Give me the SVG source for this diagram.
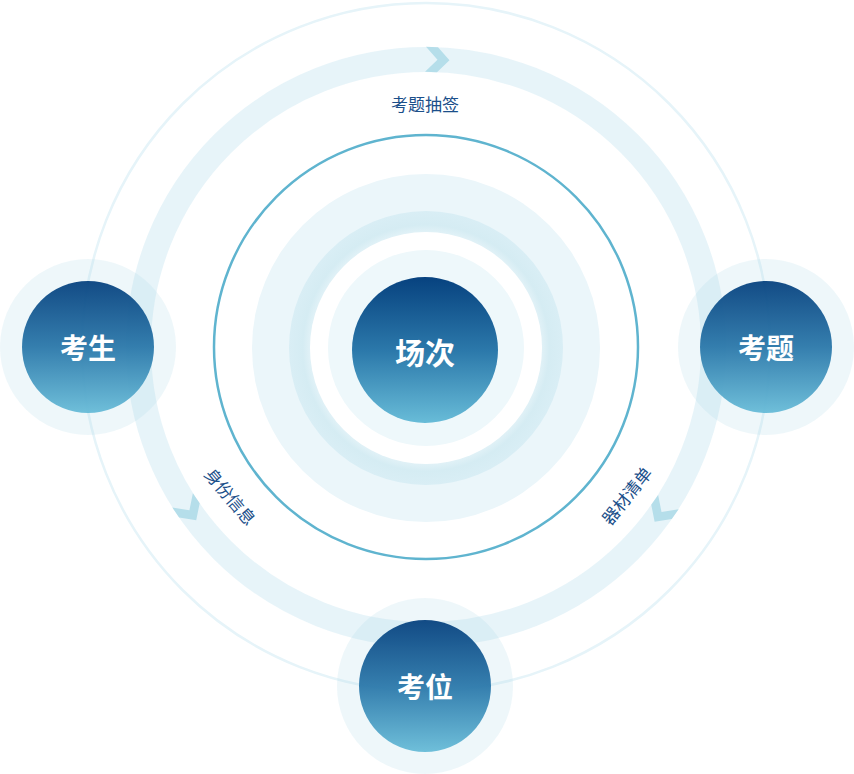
<svg xmlns="http://www.w3.org/2000/svg" width="854" height="774" viewBox="0 0 854 774">
  <defs>
    <linearGradient id="nodeGrad" x1="0" y1="0" x2="0" y2="1">
      <stop offset="0" stop-color="#07427f"/>
      <stop offset="0.5" stop-color="#2b78aa"/>
      <stop offset="1" stop-color="#68bcd8"/>
    </linearGradient>
    <radialGradient id="ringGrad" cx="0.5" cy="0.5" r="0.5">
      <stop offset="0.83" stop-color="#e4f3f8"/>
      <stop offset="0.9" stop-color="#d5ecf3"/>
      <stop offset="1" stop-color="#d9eef5"/>
    </radialGradient>
  </defs>
  <style>
    .halo { fill: #a8d8e8; fill-opacity: 0.2; }
    .node { fill: url(#nodeGrad); fill-opacity: 0.95; }
    .nodeText { fill: #ffffff; font-family: "Noto Sans CJK SC", "Noto Sans", sans-serif; font-weight: bold; font-size: 28px; text-anchor: middle; dominant-baseline: central; }
    .label { fill: #1b4f8a; font-family: "Noto Sans CJK SC", "Noto Sans", sans-serif; font-size: 17px; text-anchor: middle; dominant-baseline: central; }
    .chev { fill: #b5deea; }
  </style>
  <rect width="854" height="774" fill="#ffffff"/>

  <!-- faint outer ring -->
  <circle cx="426" cy="347" r="344" fill="none" stroke="#e6f4f9" stroke-width="2.5"/>

  <!-- concentric centre -->
  <g id="center-rings">
    <circle cx="426" cy="348" r="174" fill="#ebf6fa"/>
    <circle cx="426" cy="348" r="137" fill="url(#ringGrad)"/>
    <circle cx="426" cy="348" r="116" fill="#ffffff"/>
    <circle cx="426" cy="348" r="98" fill="#eef8fb"/>
    <circle cx="426" cy="347" r="212" fill="none" stroke="#5fb4cf" stroke-width="2.5"/>
  </g>

  <g id="connectors">
    <circle cx="426" cy="347" r="287.5" fill="none" stroke="#a8d8e8" stroke-opacity="0.27" stroke-width="25"/>
    <polygon class="chev" points="-12,-12.5 0,-12.5 12,0 0,12.5 -12,12.5 0,0" transform="translate(437.5,59.7) rotate(2.3)"/>
    <polygon class="chev" points="-12,-12.5 0,-12.5 12,0 0,12.5 -12,12.5 0,0" transform="translate(189.4,510.3) rotate(55.4)"/>
    <polygon class="chev" points="-12,-12.5 0,-12.5 12,0 0,12.5 -12,12.5 0,0" transform="translate(661.5,511.9) rotate(125)"/>
    <text class="label" x="425" y="103">考题抽签</text>
    <text class="label" transform="translate(231,496) rotate(50)">身份信息</text>
    <text class="label" transform="translate(626,495) rotate(-51)">器材清单</text>
  </g>

  <g id="node-changci">
    <circle class="node" cx="425" cy="350" r="73" style="fill-opacity:1"/>
    <text class="nodeText" x="425" y="351" style="font-size:30px">场次</text>
  </g>

  <g id="node-kaosheng">
    <circle class="halo" cx="88" cy="347" r="88"/>
    <circle class="node" cx="88" cy="347" r="66"/>
    <text class="nodeText" x="88" y="347">考生</text>
  </g>

  <g id="node-kaoti">
    <circle class="halo" cx="766" cy="347" r="88"/>
    <circle class="node" cx="766" cy="347" r="66"/>
    <text class="nodeText" x="766" y="347">考题</text>
  </g>

  <g id="node-kaowei">
    <circle class="halo" cx="425" cy="686" r="88"/>
    <circle class="node" cx="425" cy="686" r="66"/>
    <text class="nodeText" x="425" y="686">考位</text>
  </g>
</svg>
